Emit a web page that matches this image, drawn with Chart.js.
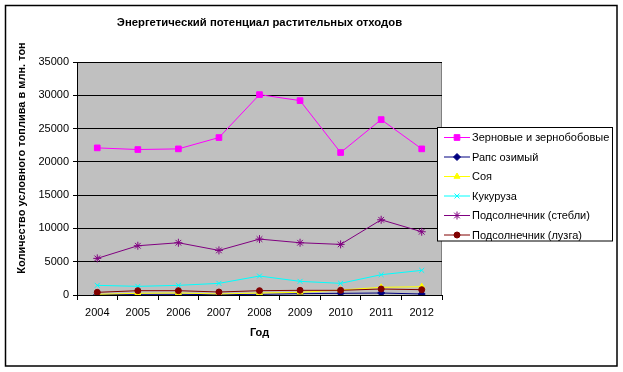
<!DOCTYPE html>
<html>
<head>
<meta charset="utf-8">
<script src="https://cdn.jsdelivr.net/npm/chart.js@4"></script>
<style>
html,body{margin:0;padding:0;background:#fff;}
#wrap{position:relative;width:623px;height:372px;}
canvas{display:block;}
</style>
</head>
<body>
<div id="wrap"><canvas id="c" width="623" height="372"></canvas></div>
<script>
const years = ['2004','2005','2006','2007','2008','2009','2010','2011','2012'];
const grain = [22100, 21850, 21950, 23650, 30100, 29200, 21400, 26350, 21950];
const rapeseed = [50, 100, 100, 50, 100, 200, 250, 300, 150];
const soy = [100, 250, 300, 150, 300, 400, 750, 1150, 1250];
const corn = [1450, 1300, 1450, 1750, 2850, 2050, 1750, 3050, 3700];
const sunflowerStalks = [5500, 7400, 7850, 6700, 8400, 7850, 7600, 11300, 9500];
const sunflowerHusk = [400, 650, 650, 450, 650, 700, 700, 900, 800];
const seriesNames = ['Зерновые и зернобобовые','Рапс озимый','Соя','Кукуруза','Подсолнечник (стебли)','Подсолнечник (лузга)'];
const yTicks = [0, 5000, 10000, 15000, 20000, 25000, 30000, 35000];
const chartTitle = 'Энергетический потенциал растительных отходов';
const xTitle = 'Год';
const yTitle = 'Количество условного топлива в млн. тон';

const FONT = '"Liberation Sans", Arial, sans-serif';

function ds(label, data, color, style, radius) {
  return {
    label, data,
    borderColor: color, backgroundColor: color,
    pointBackgroundColor: color, pointBorderColor: color,
    borderWidth: 1, pointStyle: style, pointRadius: radius, pointHoverRadius: radius,
    pointBorderWidth: 1, tension: 0
  };
}

const datasets = [
  ds(seriesNames[0], grain, '#FF00FF', 'rect', 4),
  ds(seriesNames[1], rapeseed, '#000080', 'rectRot', 3.5),
  ds(seriesNames[2], soy, '#FFFF00', 'triangle', 3.5),
  ds(seriesNames[3], corn, '#00FFFF', 'crossRot', 3.5),
  ds(seriesNames[4], sunflowerStalks, '#800080', 'star', 4),
  ds(seriesNames[5], sunflowerHusk, '#800000', 'circle', 3)
];
// Excel draws first series at bottom; draw later series on top
datasets.forEach((d, i) => { d.order = datasets.length - i; });

const decor = {
  id: 'decor',
  beforeDraw(chart) {
    const {ctx, chartArea: a} = chart;
    ctx.save();
    ctx.fillStyle = '#fff';
    ctx.fillRect(0, 0, chart.width, chart.height);
    ctx.fillStyle = '#C0C0C0';
    ctx.fillRect(a.left, a.top, a.right - a.left, a.bottom - a.top);
    ctx.strokeStyle = '#808080';
    ctx.lineWidth = 1;
    ctx.strokeRect(a.left + 0.5, a.top + 0.5, a.right - a.left - 1, a.bottom - a.top);
    ctx.restore();
  },
  afterDraw(chart) {
    const {ctx, chartArea: a} = chart;
    ctx.save();
    // outer border
    ctx.strokeStyle = '#000';
    ctx.lineWidth = 1.5;
    ctx.strokeRect(5.5, 5.5, 611.5, 360.5);
    // titles
    ctx.fillStyle = '#000';
    ctx.textAlign = 'center';
    ctx.textBaseline = 'middle';
    ctx.font = 'bold 11.3px ' + FONT;
    ctx.fillText(chartTitle, (a.left + a.right) / 2, 23);
    ctx.font = 'bold 11px ' + FONT;
    ctx.fillText(xTitle, (a.left + a.right) / 2, 333);
    ctx.save();
    ctx.translate(22, 158);
    ctx.rotate(-Math.PI / 2);
    ctx.fillText(yTitle, 0, 0);
    ctx.restore();
    // legend
    const lx = 437.5, ly = 127.5, lw = 175, lh = 113.5;
    ctx.fillStyle = '#fff';
    ctx.fillRect(lx, ly, lw, lh);
    ctx.strokeStyle = '#000';
    ctx.lineWidth = 1;
    ctx.strokeRect(lx, ly, lw, lh);
    ctx.font = '11px ' + FONT;
    ctx.textAlign = 'left';
    chart.data.datasets.forEach((d, i) => {
      const y = 137 + i * 19.5;
      ctx.strokeStyle = d.borderColor;
      ctx.lineWidth = 1;
      ctx.beginPath();
      ctx.moveTo(444, y + 0.5);
      ctx.lineTo(470, y + 0.5);
      ctx.stroke();
      ctx.fillStyle = d.backgroundColor;
      Chart.helpers.drawPoint(ctx, {
        pointStyle: d.pointStyle, radius: d.pointRadius, borderWidth: 1, rotation: 0
      }, 457, y + 0.5);
      ctx.fillStyle = '#000';
      ctx.fillText(d.label, 472, y + 1);
    });
    ctx.restore();
  }
};

new Chart(document.getElementById('c'), {
  type: 'line',
  data: { labels: years, datasets },
  options: {
    responsive: false,
    animation: false,
    devicePixelRatio: 1,
    layout: { padding: { left: 0, top: 62, right: 181, bottom: 0 } },
    plugins: { legend: { display: false }, tooltip: { enabled: false }, title: { display: false } },
    scales: {
      x: {
        offset: true,
        grid: { offset: true, drawOnChartArea: false, color: '#000', tickLength: 5, tickWidth: 1 },
        border: { color: '#000', width: 1 },
        ticks: { color: '#000', font: { family: FONT, size: 11 }, padding: 6, maxRotation: 0, autoSkip: false },
        afterFit(s) { s.height = 77; }
      },
      y: {
        min: 0, max: 35000,
        afterBuildTicks(s) { s.ticks = yTicks.map(v => ({ value: v })); },
        grid: { color: '#000', tickLength: 4, lineWidth: 1 },
        border: { color: '#000', width: 1 },
        ticks: { color: '#000', font: { family: FONT, size: 11 }, padding: 4, callback: v => String(v) },
        afterFit(s) { s.width = 77; }
      }
    }
  },
  plugins: [decor]
});
</script>
</body>
</html>
